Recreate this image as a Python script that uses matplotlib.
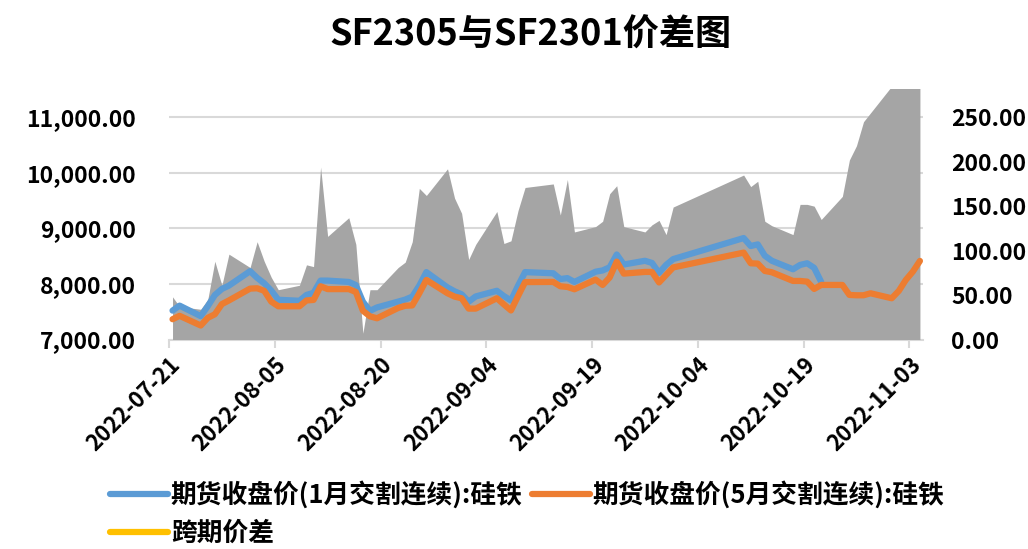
import matplotlib
matplotlib.use("Agg")
import matplotlib.pyplot as plt
from matplotlib.lines import Line2D
from matplotlib.ticker import FuncFormatter, FixedLocator
import matplotlib.dates as mdates
import numpy as np
import pandas as pd

plt.rcParams['font.family'] = ['Noto Sans CJK SC', 'DejaVu Sans']
plt.rcParams['font.weight'] = 'bold'

title = "SF2305与SF2301价差图"
label_jan = "期货收盘价(1月交割连续):硅铁"
label_may = "期货收盘价(5月交割连续):硅铁"
label_spread = "跨期价差"

dates = [
    "2022-07-21", "2022-07-22", "2022-07-25", "2022-07-26", "2022-07-27", "2022-07-28", "2022-07-29",
    "2022-08-01", "2022-08-02", "2022-08-03", "2022-08-04", "2022-08-05",
    "2022-08-08", "2022-08-09", "2022-08-10", "2022-08-11", "2022-08-12",
    "2022-08-15", "2022-08-16", "2022-08-17", "2022-08-18", "2022-08-19",
    "2022-08-22", "2022-08-23", "2022-08-24", "2022-08-25", "2022-08-26",
    "2022-08-29", "2022-08-30", "2022-08-31", "2022-09-01", "2022-09-02",
    "2022-09-05", "2022-09-06", "2022-09-07", "2022-09-08", "2022-09-09",
    "2022-09-13", "2022-09-14", "2022-09-15", "2022-09-16",
    "2022-09-19", "2022-09-20", "2022-09-21", "2022-09-22", "2022-09-23",
    "2022-09-26", "2022-09-27", "2022-09-28", "2022-09-29", "2022-09-30",
    "2022-10-10", "2022-10-11", "2022-10-12", "2022-10-13", "2022-10-14",
    "2022-10-17", "2022-10-18", "2022-10-19", "2022-10-20", "2022-10-21",
    "2022-10-24", "2022-10-25", "2022-10-26", "2022-10-27", "2022-10-28",
    "2022-10-31", "2022-11-01", "2022-11-02", "2022-11-03", "2022-11-04",
]

jan_close = [
    7520, 7610, 7420, 7600, 7800, 7910, 7970,
    8230, 8110, 8012, 7880, 7715,
    7697, 7802, 7840, 8060, 8060,
    8036, 7980, 7680, 7515, 7577,
    7682, 7718, 7772, 7970, 8213,
    7937, 7868, 7814, 7680, 7775,
    7877, 7781, 7703, 7967, 8213,
    8192, 8088, 8105, 8036,
    8220, 8243, 8300, 8530, 8350,
    8417, 8378, 8198, 8342, 8447,
    8826, 8682, 8712, 8508, 8417,
    8264, 8342, 8372, 8290, 8036,
    np.nan, np.nan, np.nan, np.nan, np.nan,
    np.nan, np.nan, np.nan, np.nan, np.nan,
]

may_close = [
    7365, 7426, 7252, 7390, 7454, 7637, 7703,
    7916, 7922, 7877, 7682, 7598,
    7598, 7703, 7712, 7958, 7907,
    7907, 7855, 7517, 7417, 7382,
    7568, 7607, 7613, 7832, 8072,
    7832, 7772, 7742, 7556, 7556,
    7742, 7631, 7523, 7781, 8033,
    8036, 7958, 7946, 7904,
    8078, 7982, 8117, 8402, 8186,
    8216, 8216, 8027, 8162, 8297,
    8564, 8372, 8366, 8234, 8210,
    8054, 8054, 8042, 7910, 7982,
    7982, 7802, 7796, 7796, 7832,
    7742, 7874, 8072, 8222, 8414,
]

spread = [
    48, 37, 34, 45, 88, 61, 96,
    81, 110, 88, 70, 56,
    61, 84, 82, 194, 116,
    137, 107, 7, 56, 56,
    81, 87, 110, 170, 162,
    192, 159, 142, 90, 107,
    144, 108, 111, 145, 171,
    175, 140, 180, 121,
    127, 133, 164, 173, 127,
    121, 129, 134, 118, 149,
    185, 172, 178, 133, 128,
    118, 152, 152, 150, 135,
    161, 202, 218, 245, 255,
    285, 295, 300, 305, 310,
]

tick_dates = ["2022-07-21", "2022-08-05", "2022-08-20", "2022-09-04",
              "2022-09-19", "2022-10-04", "2022-10-19", "2022-11-03"]
left_ticks = [7000, 8000, 9000, 10000, 11000]
right_ticks = [0, 50, 100, 150, 200, 250]

BLUE = "#5B9BD5"
ORANGE = "#ED7D31"
GRAY = "#A5A5A5"
YELLOW = "#FFC000"
GRID = "#D9D9D9"

# each daily point sits in the middle of its day slot (date-axis style)
x = pd.to_datetime(dates) + pd.Timedelta(hours=12)
xt = pd.to_datetime(tick_dates)

fig = plt.figure(figsize=(10.28, 5.49), dpi=100)
pos = [0.1644, 0.3816, 0.7339, 0.4554]
ax = fig.add_axes(pos)
ax2 = ax.twinx()
ax_fg = fig.add_axes(pos, sharex=ax, sharey=ax)

# background axis: grid + left ticks
ax.set_ylim(7000, 11500)
ax.set_xlim(pd.Timestamp("2022-07-21"), pd.Timestamp("2022-11-05"))
ax.yaxis.set_major_locator(FixedLocator(left_ticks))
ax.yaxis.set_major_formatter(FuncFormatter(lambda v, p: f"{v:,.2f}"))
ax.yaxis.grid(True, color=GRID, lw=1.5)
ax.xaxis.grid(False)
for s in ["top", "right", "left"]:
    ax.spines[s].set_visible(False)
ax.spines["bottom"].set_color(GRID)
ax.spines["bottom"].set_linewidth(1.5)
ax.tick_params(axis="y", length=0, pad=24, labelsize=16.5)
ax.xaxis.set_major_locator(FixedLocator(mdates.date2num(xt)))
ax.xaxis.set_major_formatter(mdates.DateFormatter("%Y-%m-%d"))
ax.tick_params(axis="x", direction="out", length=6, width=1.5, color=GRID,
               labelsize=16, pad=4)
for lab in ax.get_xticklabels():
    lab.set_rotation(45)
    lab.set_ha("right")
    lab.set_rotation_mode("anchor")
    lab.set_fontweight("bold")
for lab in ax.get_yticklabels():
    lab.set_fontweight("bold")

# spread area on secondary axis
ax2.fill_between(x, 0, spread, color=GRAY, lw=0)
ax2.set_ylim(0, 281.25)
ax2.yaxis.set_major_locator(FixedLocator(right_ticks))
ax2.yaxis.set_major_formatter(FuncFormatter(lambda v, p: f"{v:.2f}"))
ax2.tick_params(axis="y", length=0, pad=20, labelsize=16.5)
for s in ax2.spines.values():
    s.set_visible(False)
for lab in ax2.get_yticklabels():
    lab.set_fontweight("bold")

# price lines on top
ax_fg.patch.set_visible(False)
ax_fg.plot(x, jan_close, color=BLUE, lw=4.5, solid_joinstyle="round", solid_capstyle="round")
ax_fg.plot(x, may_close, color=ORANGE, lw=4.5, solid_joinstyle="round", solid_capstyle="round")
for s in ax_fg.spines.values():
    s.set_visible(False)
ax_fg.tick_params(left=False, bottom=False, labelleft=False, labelbottom=False)
ax.set_ylim(7000, 11500)
ax.set_xlim(pd.Timestamp("2022-07-21"), pd.Timestamp("2022-11-05"))

fig.text(0.5165, 0.936, title, ha="center", va="center", fontsize=26, fontweight="bold")

handles = [
    Line2D([], [], color=BLUE, lw=4.5, solid_capstyle="round", label=label_jan),
    Line2D([], [], color=YELLOW, lw=4.5, solid_capstyle="round", label=label_spread),
    Line2D([], [], color=ORANGE, lw=4.5, solid_capstyle="round", label=label_may),
]
fig.legend(handles=handles, ncol=2, loc="upper left", bbox_to_anchor=(0.097, 0.143),
           frameon=False, prop={"size": 18.5, "weight": "bold"}, handlelength=2.25,
           handletextpad=0.12, columnspacing=0.35, labelspacing=0.45, borderaxespad=0)

fig.savefig("out.png", dpi=100)
